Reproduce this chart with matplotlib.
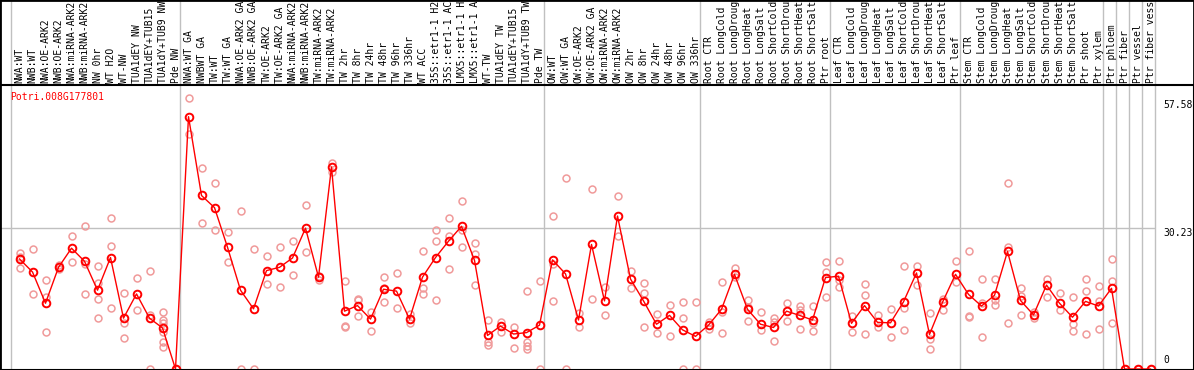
import numpy as np
import matplotlib
matplotlib.use("Agg")
import matplotlib.pyplot as plt
from matplotlib.patches import Rectangle

gene = "Potri.008G177801"

# sample names as printed in the header (cut to 14 characters there)
labels = [
    # NW
    "NWA:WT", "NWB:WT", "NWA:OE-ARK2", "NWB:OE-ARK2", "NWA:miRNA-ARK2",
    "NWB:miRNA-ARK2", "NW 0hr", "WT H2O", "WT-NW", "TUA1dEY NW",
    "TUA1dEY+TUB15", "TUA1dY+TUB9 NW", "Pde NW",
    # TW
    "NWA:WT GA", "NWBWT GA", "TW:WT", "TW:WT GA", "NWA:OE-ARK2 GA",
    "NWB:OE-ARK2 GA", "TW:OE-ARK2", "TW:OE-ARK2 GA", "NWA:miRNA-ARK2",
    "NWB:miRNA-ARK2", "TW:miRNA-ARK2", "TW:miRNA-ARK2", "TW 2hr", "TW 8hr",
    "TW 24hr", "TW 48hr", "TW 96hr", "TW 336hr", "WT ACC", "35S::etr1-1 H2",
    "35S::etr1-1 AC", "LMX5::etr1-1 H", "LMX5::etr1-1 A", "WT-TW",
    "TUA1dEY TW", "TUA1dEY+TUB15", "TUA1dY+TUB9 TW", "Pde TW",
    # OW
    "OW:WT", "OW:WT GA", "OW:OE-ARK2", "OW:OE-ARK2 GA", "OW:miRNA-ARK2",
    "OW:miRNA-ARK2", "OW 2hr", "OW 8hr", "OW 24hr", "OW 48hr", "OW 96hr",
    "OW 336hr",
    # root
    "Root CTR", "Root LongCold", "Root LongDroug", "Root LongHeat",
    "Root LongSalt", "Root ShortCold", "Root ShortDrou", "Root ShortHeat",
    "Root ShortSalt", "Ptr root",
    # leaf
    "Leaf CTR", "Leaf LongCold", "Leaf LongDroug", "Leaf LongHeat",
    "Leaf LongSalt", "Leaf ShortCold", "Leaf ShortDrou", "Leaf ShortHeat",
    "Leaf ShortSalt", "Ptr leaf",
    # stem
    "Stem CTR", "Stem LongCold", "Stem LongDroug", "Stem LongHeat",
    "Stem LongSalt", "Stem ShortCold", "Stem ShortDrou", "Stem ShortHeat",
    "Stem ShortSalt", "Ptr shoot", "Ptr xylem",
    "Ptr phloem", "Ptr fiber", "Ptr vessel", "Ptr fiber vess",
]

group_sizes = [13, 28, 12, 10, 10, 11, 1, 1, 1, 1]

means = [
    23.6, 20.8, 14.1, 21.8, 25.9, 23.1, 16.9, 23.9, 10.9, 16.1, 10.9, 8.8, 0,
    54.1, 37.2, 34.6, 26.1, 16.9, 12.9, 21.1, 21.8, 23.8, 30.2, 19.7, 43.3,
    12.4, 13.6, 10.7, 17.1, 16.7, 10.7, 19.7, 23.9, 27.4, 30.6, 23.3, 7.2,
    9.2, 7.5, 7.8, 9.4,
    23.4, 20.4, 10.5, 26.7, 14.6, 32.8, 19.3, 14.6, 9.6, 11.5, 8.4, 7.0,
    9.4, 12.8, 20.3, 12.8, 9.6, 8.9, 12.4, 11.5, 10.5, 19.6,
    19.9, 9.8, 13.6, 10.0, 9.9, 14.4, 20.6, 7.4, 14.3, 20.3,
    16.0, 13.5, 15.8, 25.2, 14.7, 11.6, 18.0, 14.1, 11.1, 14.5, 13.5,
    17.3, 0, 0, 0,
]

replicates = [
    [24.8, 24.0, 21.6], [25.7, 16.1], [19.1, 15.5, 7.9], [22.3, 21.5],
    [28.6, 23.0], [30.6, 22.6, 16.1], [22.1, 18.4, 15.1, 10.9],
    [32.3, 26.4, 13.0], [16.4, 9.8, 6.6], [19.6, 12.6], [21.1, 11.6, 0],
    [12.3, 10.5, 9.8, 8.0, 5.8, 4.8], [0],
    [58.0, 50.3], [43.2, 31.2], [39.8, 29.7], [29.3, 22.9], [33.9, 0],
    [25.7, 0], [24.2, 18.2], [26.1, 17.6], [27.4, 20.1], [35.1, 25.0],
    [19.9, 19.0], [44.2, 42.3], [18.9, 9.3, 9.1], [15.1, 14.8, 11.3],
    [12.2, 8.1], [19.7, 17.3, 14.4], [20.6, 13.0], [11.8, 9.8],
    [25.4, 17.3, 16.1], [29.9, 27.4, 14.7], [32.3, 28.6, 21.4],
    [36.1, 29.8, 26.1], [27.1, 24.6, 18.0], [10.5, 5.8, 5.1], [10.0, 8.0],
    [9.1, 4.4], [16.7, 5.7, 5.0, 4.2], [18.9, 0],
    [32.9, 22.6, 14.6], [40.9, 0], [11.9, 9.1], [38.5, 15.1], [17.6, 11.6],
    [37.0, 28.6], [21.0, 17.3], [18.4, 16.4, 8.9], [11.8, 7.7], [13.7, 7.1],
    [14.4, 10.9, 0], [14.4, 0],
    [10.1, 8.5], [18.6, 12.3, 7.7], [21.6, 19.8], [14.8, 13.3, 10.3],
    [12.2, 8.4], [10.9, 10.1, 6.0], [14.1, 10.3], [13.5, 12.6, 8.6],
    [13.5, 9.8, 8.1], [22.9, 20.7, 15.4],
    [23.1, 19.1, 17.5], [11.4, 8.0], [18.2, 15.9, 7.4], [11.6, 9.1],
    [12.8, 6.9], [22.1, 13.0, 8.4], [22.1, 18.0], [11.9, 6.4, 4.2],
    [15.1, 12.6], [23.1, 18.7],
    [25.2, 11.4, 11.1], [19.4, 14.1, 6.8], [19.4, 14.8, 13.7],
    [39.8, 26.2, 9.8], [17.3, 15.7, 11.5], [12.3, 10.9], [19.4, 15.4],
    [16.2, 12.6], [15.4, 9.6, 8.2], [19.2, 16.7, 7.4], [17.8, 14.6, 8.5],
    [23.5, 18.8, 9.8], [0], [0], [0],
]

y_max_label = 57.58
y_mid_label = 30.23

W, H = 1194, 370
header = 85
fig = plt.figure(figsize=(W / 100, H / 100), dpi=100)
ax = fig.add_axes([0, 0, 1, (H - header) / H])

mono = "DejaVu Sans Mono"
fs = 7.0

x = np.arange(len(labels))
px_per_unit = 4.664
ax.set_xlim(-19.5 / 13, (W - 19.5) / 13)
ax.set_ylim(-1 / px_per_unit, (369 - header) / px_per_unit)
ax.set_xticks([])
ax.set_yticks([])
for s in ax.spines.values():
    s.set_color("black")
    s.set_linewidth(1.5)

# group separators run through the header as well
edges = np.cumsum([0] + group_sizes) - 0.5 - 0.15
for e in edges:
    ax.axvline(e, ymin=0, ymax=H / (H - header), color="#c0c0c0", lw=1,
               clip_on=False, zorder=1)
ax.hlines(y_mid_label, -1.5, edges[-1], color="#c0c0c0", lw=1, zorder=1)

# replicate points
for i, reps in enumerate(replicates):
    ax.plot([i] * len(reps), reps, "o", ms=5, mfc="none", mec="#f09a9a",
            mew=1.1, zorder=2, clip_on=True)

# mean line
ax.plot(x, means, "-", color="red", lw=1, zorder=3)
ax.plot(x, means, "o", ms=5.5, mfc="none", mec="red", mew=1.4, zorder=4)

# sample labels in header
for i, lab in enumerate(labels):
    ax.text(i, 1 + 2 / (H - header), lab, transform=ax.get_xaxis_transform(),
            rotation=90, ha="center", va="bottom", fontsize=fs,
            family=mono, clip_on=False)

# right-hand value labels
xr = (1163 - 19.5) / 13
ax.text(xr, y_max_label, f"{y_max_label:.2f}", ha="left", va="top",
        fontsize=fs, family=mono)
ax.text(xr, y_mid_label, f"{y_mid_label:.2f}", ha="left", va="top",
        fontsize=fs, family=mono)
ax.text(xr, 0.8, "0", ha="left", va="bottom", fontsize=fs, family=mono)

fig.text(10 / W, 1 - 97 / H, gene, color="red", ha="left", va="center",
         fontsize=fs, family=mono)

fig.add_artist(Rectangle((0, 0), 1, 1, transform=fig.transFigure,
                         fill=False, ec="black", lw=2))

fig.savefig("out.png", dpi=100)
